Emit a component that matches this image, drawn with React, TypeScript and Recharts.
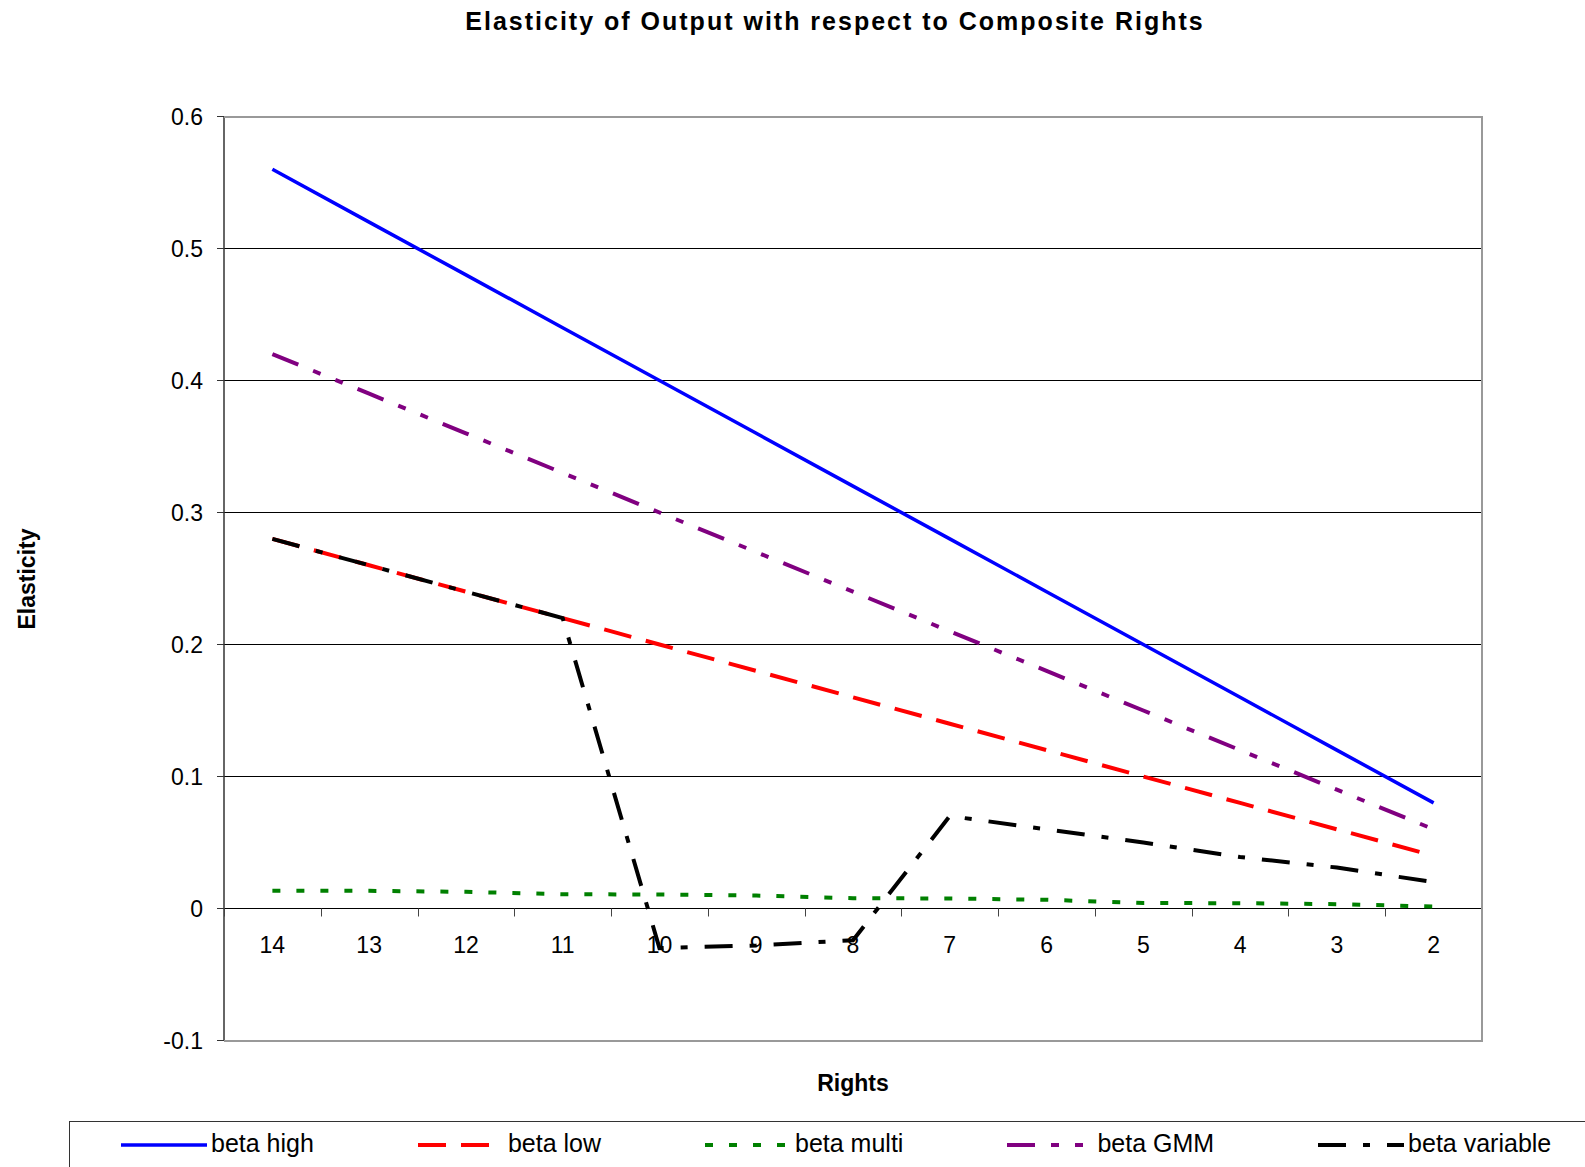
import React from 'react';
import { LineChart, Line, XAxis, YAxis, CartesianGrid } from 'recharts';

const FONT = "'Liberation Sans', Arial, Helvetica, sans-serif";

// Number of composite rights, plotted from highest to lowest
const categories = ['14', '13', '12', '11', '10', '9', '8', '7', '6', '5', '4', '3', '2'];

// Elasticity estimates per specification
const betaHigh = [0.56, 0.52, 0.48, 0.44, 0.4, 0.36, 0.32, 0.28, 0.24, 0.2, 0.16, 0.12, 0.08];
const betaLow = [0.28, 0.26, 0.24, 0.22, 0.2, 0.18, 0.16, 0.14, 0.12, 0.1, 0.08, 0.06, 0.04];
const betaMulti = [0.0134, 0.0134, 0.0126, 0.0108, 0.0106, 0.0098, 0.0078, 0.0076, 0.0066, 0.0042, 0.004, 0.0033, 0.0015];
const betaGMM = [0.42, 0.39, 0.36, 0.33, 0.3, 0.27, 0.24, 0.21, 0.18, 0.15, 0.12, 0.09, 0.06];
const betaVariable = [0.28, 0.26, 0.24, 0.22, -0.03, -0.028, -0.024, 0.07, 0.06, 0.05, 0.039, 0.031, 0.02];

const yTicks = [-0.1, 0, 0.1, 0.2, 0.3, 0.4, 0.5, 0.6];
const gridValues = [0, 0.1, 0.2, 0.3, 0.4, 0.5];

const series = [
  { key: 'high', name: 'beta high', values: betaHigh, color: '#0000FF', dash: undefined as string | undefined, width: 3.5 },
  { key: 'low', name: 'beta low', values: betaLow, color: '#FF0000', dash: '28 15', width: 4 },
  { key: 'multi', name: 'beta multi', values: betaMulti, color: '#008000', dash: '8 16', width: 4 },
  { key: 'gmm', name: 'beta GMM', values: betaGMM, color: '#800080', dash: '28 16 8 16 8 16', width: 4 },
  { key: 'variable', name: 'beta variable', values: betaVariable, color: '#000000', dash: '28 17 7 17', width: 4 },
];

const data = categories.map((rights, i) => {
  const row: Record<string, string | number> = { rights };
  series.forEach((s) => {
    row[s.key] = s.values[i];
  });
  return row;
});

// Layout
const CHART_W = 1585;
const CHART_H = 1167;
const MARGIN = { top: 116.5, right: 103, bottom: 96.5, left: 144 };
const Y_AXIS_W = 80;
const X_AXIS_H = 30;
const PLOT_LEFT = MARGIN.left + Y_AXIS_W;
const PLOT_W = CHART_W - PLOT_LEFT - MARGIN.right;
const PLOT_H = CHART_H - MARGIN.top - MARGIN.bottom - X_AXIS_H;
const BAND = PLOT_W / categories.length;
const Y_MIN = -0.1;
const Y_MAX = 0.6;
const ZERO_Y = MARGIN.top + (PLOT_H * Y_MAX) / (Y_MAX - Y_MIN);

// Category labels hang below the zero line, tick marks sit between categories
function XTick(props: any) {
  const { x, payload, index } = props;
  const last = index === categories.length - 1;
  const tx = (v: number) => Math.round(v) + 0.5;
  return (
    <g>
      <line x1={tx(x - BAND / 2)} x2={tx(x - BAND / 2)} y1={ZERO_Y} y2={ZERO_Y + 8} stroke="#444" strokeWidth={1} />
      {last && (
        <line x1={tx(x + BAND / 2)} x2={tx(x + BAND / 2)} y1={ZERO_Y} y2={ZERO_Y + 8} stroke="#444" strokeWidth={1} />
      )}
      <text x={x} y={ZERO_Y + 44} textAnchor="middle" fontSize={23} fontFamily={FONT} fill="#000">
        {payload.value}
      </text>
    </g>
  );
}

function LegendSample({ color, dash, width }: { color: string; dash?: string; width: number }) {
  return (
    <svg width={86} height={12} style={{ display: 'block', marginTop: 2 }}>
      <line x1={0} x2={86} y1={6} y2={6} stroke={color} strokeWidth={width} strokeDasharray={dash} />
    </svg>
  );
}

export default function App() {
  return (
    <div
      style={{
        position: 'absolute',
        left: 0,
        top: 0,
        width: CHART_W,
        height: CHART_H,
        overflow: 'hidden',
        background: '#fff',
        fontFamily: FONT,
      }}
    >
      <LineChart width={CHART_W} height={CHART_H} data={data} margin={MARGIN}>
        <CartesianGrid vertical={false} horizontalValues={gridValues} stroke="#000" strokeWidth={1} />
        <XAxis
          dataKey="rights"
          height={X_AXIS_H}
          padding={{ left: BAND / 2, right: BAND / 2 }}
          interval={0}
          axisLine={false}
          tickLine={false}
          tick={<XTick />}
        />
        <YAxis
          domain={[Y_MIN, Y_MAX]}
          ticks={yTicks}
          interval={0}
          allowDataOverflow
          width={Y_AXIS_W}
          tickSize={7}
          tickMargin={14}
          axisLine={{ stroke: '#333', strokeWidth: 1.5 }}
          tickLine={{ stroke: '#333', strokeWidth: 1 }}
          tick={{ fill: '#000', fontSize: 23, fontFamily: FONT }}
          tickFormatter={(v: number) => String(v)}
        />
        {series.map((s) => (
          <Line
            key={s.key}
            type="linear"
            dataKey={s.key}
            name={s.name}
            stroke={s.color}
            strokeWidth={s.width}
            strokeDasharray={s.dash}
            dot={false}
            activeDot={false}
            isAnimationActive={false}
          />
        ))}
      </LineChart>

      {/* plot frame: top, right and bottom edges */}
      <div
        style={{
          position: 'absolute',
          left: PLOT_LEFT,
          top: MARGIN.top - 1,
          width: PLOT_W + 1,
          height: PLOT_H + 2,
          borderTop: '2px solid #999',
          borderRight: '2px solid #999',
          borderBottom: '2px solid #999',
          boxSizing: 'border-box',
          pointerEvents: 'none',
        }}
      />

      <svg
        width={CHART_W}
        height={CHART_H}
        style={{ position: 'absolute', left: 0, top: 0, pointerEvents: 'none' }}
      >
        <text
          x={835}
          y={29.5}
          textAnchor="middle"
          fontSize={25}
          fontWeight="bold"
          letterSpacing={2}
          fontFamily={FONT}
          fill="#000"
        >
          Elasticity of Output with respect to Composite Rights
        </text>
        <text
          x={853}
          y={1091}
          textAnchor="middle"
          fontSize={23}
          fontWeight="bold"
          fontFamily={FONT}
          fill="#000"
        >
          Rights
        </text>
        <text
          transform={`translate(34.5, 579) rotate(-90)`}
          textAnchor="middle"
          fontSize={23}
          fontWeight="bold"
          fontFamily={FONT}
          fill="#000"
        >
          Elasticity
        </text>
      </svg>

      <div
        style={{
          position: 'absolute',
          left: 69,
          top: 1121,
          width: 1600,
          height: 90,
          border: '1px solid #333',
          boxSizing: 'border-box',
          paddingLeft: 51,
          paddingTop: 9,
          display: 'flex',
          alignItems: 'flex-start',
          gap: 104,
        }}
      >
        {series.map((s) => (
          <div key={s.key} style={{ display: 'flex', alignItems: 'center', height: 25 }}>
            <LegendSample color={s.color} dash={s.dash} width={s.width} />
            <span style={{ marginLeft: 4, fontSize: 25, lineHeight: '25px', color: '#000', whiteSpace: 'nowrap' }}>
              {s.name}
            </span>
          </div>
        ))}
      </div>
    </div>
  );
}
